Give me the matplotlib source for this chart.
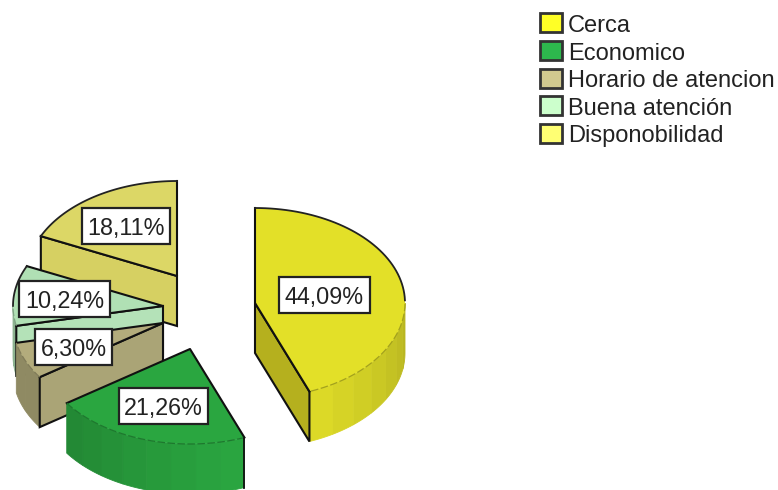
import numpy as np
import matplotlib
matplotlib.use('Agg')
import matplotlib.pyplot as plt
from matplotlib.colors import to_rgb
from matplotlib.patches import Rectangle

plt.rcParams['font.family'] = ['Liberation Sans', 'DejaVu Sans']

categories = ['Cerca', 'Economico', 'Horario de atencion', 'Buena atención', 'Disponobilidad']
percent = [44.09, 21.26, 6.30, 10.24, 18.11]
legend_colors = ['#ffff26', '#2db84d', '#d1c98f', '#ccffcc', '#ffff73']
top_colors = ['#e3e028', '#2aa640', '#b3ac7c', '#b0e0b4', '#dcd766']
wall_colors = ['#b5b01e', '#2aa640', '#aaa476', '#b4e2b8', '#d6d062']
centers = [(255, 303), (190, 349), (163, 323), (163, 306), (177, 276)]
label_pos = [(324.5, 295), (163.5, 406), (73.5, 347), (64.5, 299), (126, 226)]

RX, RY, DEPTH = 150, 95, 50
INK = '#111111'


def rim(c, t):
    # t is in degrees, clockwise from the top of the ellipse
    t = np.radians(t)
    return c[0] + RX*np.sin(t), c[1] - RY*np.cos(t)


def wall_shade(t):
    # lightest toward the front, darker where the wall turns away
    return 1.0 - 0.2*min(abs(t - 165)/75, 1)


def draw_slice(ax, c, t0, t1, top, wall, z):
    ts = np.linspace(t0, t1, 80)
    x, y = rim(c, ts)

    # outer wall, in strips so the shading steps along the arc
    a, b = max(t0, 90), min(t1, 270)
    if a < b:
        edges = np.linspace(a, b, max(int((b - a)/9), 2) + 1)
        for e0, e1 in zip(edges[:-1], edges[1:]):
            xs, ys = rim(c, np.linspace(e0, e1, 8))
            rgb = np.array(to_rgb(top))*wall_shade((e0 + e1)/2)
            ax.fill(np.r_[xs, xs[::-1]], np.r_[ys, ys[::-1] + DEPTH], color=rgb, lw=0.6, zorder=z)

    # cut faces, only those turned to the viewer
    ex0, ey0 = rim(c, t0)
    ex1, ey1 = rim(c, t1)
    faces = []
    if np.sin(np.radians(t0)) < -1e-6:
        faces.append((ex0, ey0))
    if np.sin(np.radians(t1)) > 1e-6:
        faces.append((ex1, ey1))
    for ex, ey in faces:
        ax.fill([c[0], ex, ex, c[0]], [c[1], ey, ey + DEPTH, c[1] + DEPTH],
                facecolor=wall, edgecolor=INK, lw=1.5, zorder=z + 0.05)

    ax.fill(np.r_[c[0], x], np.r_[c[1], y], color=top, lw=0, zorder=z + 0.1)
    ax.plot([ex0, c[0], ex1], [ey0, c[1], ey1], color=INK, lw=1.5, zorder=z + 0.2)

    # rim: black on the back half, faint on the front half
    back = (ts < 90) | (ts > 270)
    if back.any():
        ax.plot(x[back], y[back], color='#222222', lw=1.3, zorder=z + 0.2)
    front = ~back
    if front.any():
        dark = np.array(to_rgb(top))*0.72
        ax.plot(x[front], y[front], color=dark, lw=0.9, ls=(0, (6, 2)), zorder=z + 0.2)
    # right hand edge of the outer wall of the green slice
    if 90 < t0 < 180:
        ax.plot([ex0, ex0], [ey0, ey0 + DEPTH], color=INK, lw=1.3, zorder=z + 0.2)


fig = plt.figure(figsize=(7.78, 4.9), dpi=100)
ax = fig.add_axes([0, 0, 1, 1])
ax.set_xlim(0, 778)
ax.set_ylim(490, 0)
ax.axis('off')

ends = np.cumsum(percent)/sum(percent)*360
starts = np.r_[0, ends[:-1]]

# back slices first
for i in (4, 3, 2, 1, 0):
    draw_slice(ax, centers[i], starts[i], ends[i], top_colors[i], wall_colors[i], 2 + (4 - i))

renderer = fig.canvas.get_renderer()
for i, p in enumerate(percent):
    lx, ly = label_pos[i]
    txt = ax.text(lx, ly, f'{p:.2f}%'.replace('.', ','), fontsize=16.8, color='#222222',
                  ha='center', va='center_baseline', zorder=21)
    w = txt.get_window_extent(renderer).width + 11
    ax.add_patch(Rectangle((lx - w/2, ly - 18), w, 36, fc='white', ec='#222222', lw=1.6, zorder=20))

# legend
for i, name in enumerate(categories):
    y = 13.5 + 27.6*i
    ax.add_patch(Rectangle((540, y), 22, 19, fc=legend_colors[i], ec='#333333', lw=2))
    ax.text(568, y + 12.5, name, fontsize=17, color='#222222', va='center', ha='left')

fig.savefig('out.png', dpi=100)
